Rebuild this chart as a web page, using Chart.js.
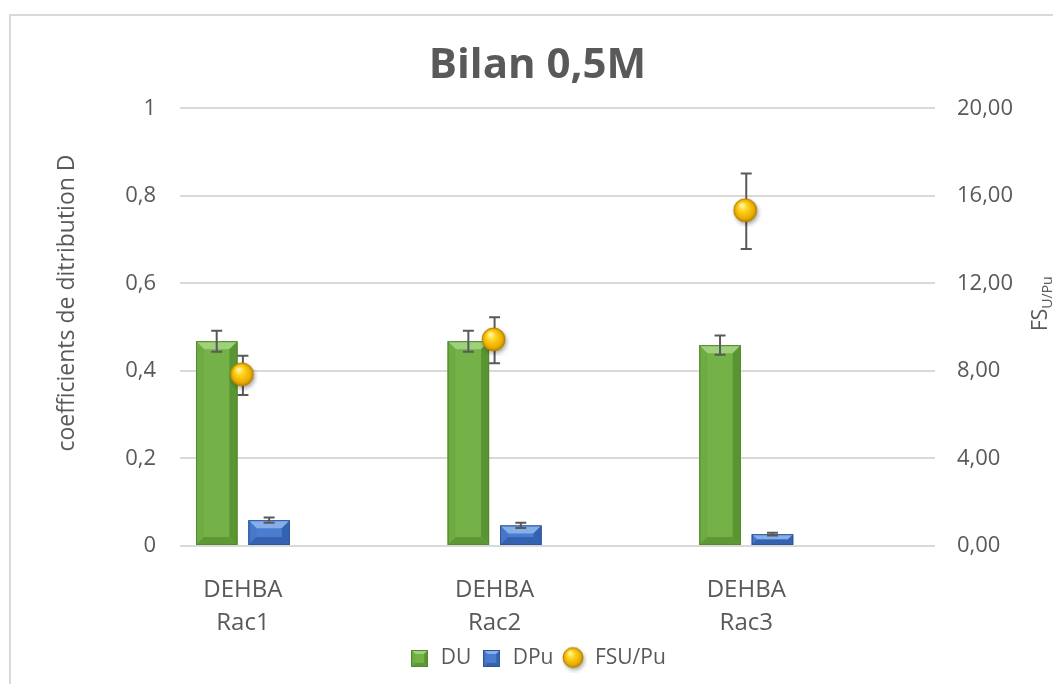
<!DOCTYPE html>
<html>
<head>
<meta charset="utf-8">
<script src="https://cdn.jsdelivr.net/npm/chart.js@4.4.1/dist/chart.umd.min.js"></script>
<style>
  html, body { margin: 0; padding: 0; background: #fff; }
  #wrap { position: relative; width: 1053px; height: 684px; overflow: hidden; }
  #frame { position: absolute; left: 9px; top: 14px; right: -10px; bottom: -10px;
           border-top: 2px solid #d9d9d9; border-left: 2px solid #d9d9d9; }
  canvas { position: absolute; left: 0; top: 0; }
</style>
</head>
<body>
<div id="wrap">
  <div id="frame"></div>
  <canvas id="bilan" width="1053" height="684"></canvas>
</div>
<script>
// données du bilan 0,5M
const categories = [["DEHBA", "Rac1"], ["DEHBA", "Rac2"], ["DEHBA", "Rac3"]];
const duValues = [0.468, 0.468, 0.459];
const duErrors = [0.024, 0.024, 0.022];
const dpuValues = [0.059, 0.047, 0.027];
const dpuErrors = [0.006, 0.006, 0.003];
const fsValues = [7.8, 9.4, 15.3];
const fsErrors = [0.9, 1.05, 1.73];

const TEXT = "#595959";
const FONT = "'Open Sans', sans-serif";
Chart.defaults.font.family = FONT;
Chart.defaults.color = TEXT;

// couleurs des barres : fond, biseau haut, côtés, bas
const bevelColors = [
  { fill: "#74b146", top: "#9fd07b", left: "#6eab42", right: "#5a9534", bottom: "#5e9836", line: "#52882e" },
  { fill: "#4a7dd0", top: "#86aee9", left: "#4677ca", right: "#3562b0", bottom: "#3562b0", line: "#2f5597" }
];

// sphère jaune pour la série FSU/Pu
function sphere(r) {
  const size = Math.ceil(r * 2 + 8);
  const c = document.createElement("canvas");
  c.width = size; c.height = size;
  const g = c.getContext("2d");
  const cx = size / 2 - 1, cy = size / 2 - 1;
  g.save();
  g.shadowColor = "rgba(0,0,0,0.35)";
  g.shadowBlur = 4; g.shadowOffsetX = 1.5; g.shadowOffsetY = 2.5;
  g.beginPath(); g.arc(cx, cy, r, 0, Math.PI * 2);
  g.fillStyle = "#e0a800"; g.fill();
  g.restore();
  const rg = g.createRadialGradient(cx - r * 0.3, cy - r * 0.45, r * 0.1, cx, cy, r);
  rg.addColorStop(0, "#fff3a0");
  rg.addColorStop(0.35, "#ffd21a");
  rg.addColorStop(0.8, "#e9ad00");
  rg.addColorStop(1, "#b98400");
  g.beginPath(); g.arc(cx, cy, r, 0, Math.PI * 2);
  g.fillStyle = rg; g.fill();
  g.lineWidth = 0.8; g.strokeStyle = "#b07d00"; g.stroke();
  return c;
}

// petit carré biseauté pour la légende
function bevelBox(col, s) {
  const c = document.createElement("canvas");
  c.width = s; c.height = s;
  const g = c.getContext("2d");
  paintBevel(g, 0, 0, s, s, col, 4);
  return c;
}

function paintBevel(g, left, top, w, h, col, bv) {
  const right = left + w, bottom = top + h;
  const b = Math.min(bv, w / 2, h / 2);
  g.fillStyle = col.fill; g.fillRect(left, top, w, h);
  const poly = (pts, color) => {
    g.beginPath(); g.moveTo(pts[0][0], pts[0][1]);
    pts.slice(1).forEach(p => g.lineTo(p[0], p[1]));
    g.closePath(); g.fillStyle = color; g.fill();
  };
  poly([[left, top], [right, top], [right - b, top + b], [left + b, top + b]], col.top);
  poly([[left, top], [left + b, top + b], [left + b, bottom - b], [left, bottom]], col.left);
  poly([[right, top], [right - b, top + b], [right - b, bottom - b], [right, bottom]], col.right);
  poly([[left, bottom], [left + b, bottom - b], [right - b, bottom - b], [right, bottom]], col.bottom);
  g.lineWidth = 1; g.strokeStyle = col.line;
  g.strokeRect(left + 0.5, top + 0.5, w - 1, h - 1);
}

const pointImg = sphere(11.5);
const legendIcons = [bevelBox(bevelColors[0], 17), bevelBox(bevelColors[1], 17), sphere(10)];

const toXY = vals => vals.map((v, i) => ({ x: i, y: v }));

// biseau des barres + barres d'erreur
const decorations = {
  id: "decorations",
  beforeDatasetDraw(chart, args) {
    if (args.meta.type === "line") drawErrors(chart, args.index);
  },
  afterDatasetDraw(chart, args) {
    if (args.meta.type !== "bar") return;
    const ctx = chart.ctx;
    const col = bevelColors[args.index];
    ctx.save();
    args.meta.data.forEach(bar => {
      const w = bar.width, left = bar.x - w / 2;
      paintBevel(ctx, left, bar.y, w, bar.base - bar.y, col, 8);
    });
    ctx.restore();
    drawErrors(chart, args.index);
  },
  afterDraw(chart) {
    const ctx = chart.ctx;
    ctx.save();
    ctx.fillStyle = TEXT;
    ctx.textBaseline = "alphabetic";
    // titre axe gauche
    ctx.save();
    ctx.translate(74, 303);
    ctx.rotate(-Math.PI / 2);
    ctx.textAlign = "center";
    ctx.font = "23px " + FONT;
    ctx.fillText("coefficients de ditribution D", 0, 0);
    ctx.restore();
    // titre axe droit (FS avec indice U/Pu)
    ctx.save();
    ctx.translate(1047, 331);
    ctx.rotate(-Math.PI / 2);
    ctx.textAlign = "left";
    ctx.font = "21px " + FONT;
    ctx.fillText("FS", 0, 0);
    const w = ctx.measureText("FS").width;
    ctx.font = "14px " + FONT;
    ctx.fillText("U/Pu", w, 5);
    ctx.restore();
    ctx.restore();
  }
};

function drawErrors(chart, index) {
  const ds = chart.data.datasets[index];
  const meta = chart.getDatasetMeta(index);
  const scale = chart.scales[meta.yAxisID];
  const ctx = chart.ctx;
  ctx.save();
  ctx.strokeStyle = "#595959";
  ctx.lineWidth = 2;
  meta.data.forEach((el, j) => {
    const v = ds.data[j].y, e = ds.errors[j];
    const yt = scale.getPixelForValue(v + e);
    const yb = scale.getPixelForValue(v - e);
    ctx.beginPath();
    ctx.moveTo(el.x, yt); ctx.lineTo(el.x, yb);
    ctx.moveTo(el.x - 5.5, yt); ctx.lineTo(el.x + 5.5, yt);
    ctx.moveTo(el.x - 5.5, yb); ctx.lineTo(el.x + 5.5, yb);
    ctx.stroke();
  });
  ctx.restore();
}

const comma = (v, d) => v.toFixed(d).replace(".", ",");

new Chart(document.getElementById("bilan"), {
  type: "bar",
  data: {
    datasets: [
      { label: "DU", data: toXY(duValues), errors: duErrors, backgroundColor: bevelColors[0].fill,
        yAxisID: "y", order: 1, categoryPercentage: 0.4166, barPercentage: 0.79 },
      { label: "DPu", data: toXY(dpuValues), errors: dpuErrors, backgroundColor: bevelColors[1].fill,
        yAxisID: "y", order: 2, categoryPercentage: 0.4166, barPercentage: 0.79 },
      { type: "line", label: "FSU/Pu", data: toXY(fsValues), errors: fsErrors, showLine: false,
        pointStyle: pointImg, pointRadius: 12, yAxisID: "y1", order: 0 }
    ]
  },
  options: {
    responsive: false,
    animation: false,
    layout: { padding: { left: 22, top: 15, right: 0, bottom: 5 } },
    plugins: {
      title: {
        display: true, text: "Bilan 0,5M", color: TEXT,
        font: { family: FONT, size: 42, weight: "bold" },
        padding: { top: 26, bottom: 17 }
      },
      legend: {
        position: "bottom",
        labels: {
          usePointStyle: true,
          color: TEXT,
          font: { size: 21 },
          padding: 10,
          sort: (a, b) => a.datasetIndex - b.datasetIndex,
          generateLabels(chart) {
            const items = Chart.defaults.plugins.legend.labels.generateLabels(chart);
            items.forEach(it => { it.pointStyle = legendIcons[it.datasetIndex]; });
            return items;
          }
        }
      },
      tooltip: { enabled: false }
    },
    scales: {
      x: {
        type: "linear", min: -0.25, max: 2.75, offset: false,
        grid: { display: false }, border: { display: false },
        afterBuildTicks(s) { s.ticks = categories.map((c, i) => ({ value: i })); },
        ticks: {
          callback: v => categories[v], color: TEXT, padding: 20,
          font: { size: 24, lineHeight: 1.375 }, maxRotation: 0, autoSkip: false
        },
        afterFit(s) { s.height = 92; }
      },
      y: {
        position: "left", min: 0, max: 1,
        grid: { color: "#d9d9d9", lineWidth: 2, drawTicks: false },
        border: { display: false },
        ticks: {
          stepSize: 0.2, padding: 24, color: TEXT, font: { size: 22 },
          callback: v => (v === 0 || v === 1) ? String(v) : comma(v, 1)
        },
        afterFit(s) { s.width = 158; }
      },
      y1: {
        position: "right", min: 0, max: 20,
        grid: { display: false, drawTicks: false },
        border: { display: false },
        ticks: { stepSize: 4, padding: 22, color: TEXT, font: { size: 22 }, callback: v => comma(v, 2) },
        afterFit(s) { s.width = 118; }
      }
    }
  },
  plugins: [decorations]
});
</script>
</body>
</html>
